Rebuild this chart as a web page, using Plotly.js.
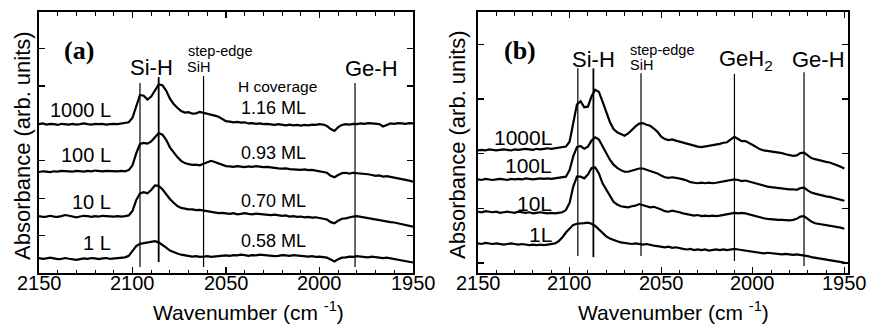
<!DOCTYPE html>
<html>
<head>
<meta charset="utf-8">
<script src="https://cdn.plot.ly/plotly-3.0.1.min.js"></script>
<style>html,body{margin:0;padding:0;background:#fff;}#chart{width:872px;height:324px;}</style>
</head>
<body>
<div id="chart"></div>
<script>
// Wavenumber grid (cm^-1)
var wn = [2150,2148,2146,2144,2142,2140,2138,2136,2134,2132,
2130,2128,2126,2124,2122,2120,2118,2116,2114,2112,
2110,2108,2106,2104,2102,2100,2098,2096,2094,2092,
2090,2088,2086,2084,2082,2080,2078,2076,2074,2072,
2070,2068,2066,2064,2062,2060,2058,2056,2054,2052,
2050,2048,2046,2044,2042,2040,2038,2036,2034,2032,
2030,2028,2026,2024,2022,2020,2018,2016,2014,2012,
2010,2008,2006,2004,2002,2000,1998,1996,1994,1992,
1990,1988,1986,1984,1982,1980,1978,1976,1974,1972,
1970,1968,1966,1964,1962,1960,1958,1956,1954,1952,
1950];

// Panel (a) spectra (offset, arb. units)
var a1000 = [3.98,4.00,3.97,3.99,3.98,3.96,3.99,3.98,3.97,3.99,
3.97,3.98,4.00,3.98,3.97,3.99,3.98,3.99,3.97,3.98,
3.99,3.98,3.99,4.00,4.03,4.15,4.45,4.76,4.74,4.64,
4.72,4.90,5.04,5.02,4.88,4.66,4.52,4.42,4.33,4.29,
4.30,4.26,4.27,4.31,4.29,4.27,4.25,4.21,4.18,4.12,
4.06,4.05,4.03,4.04,4.02,4.03,4.00,4.01,3.99,4.00,
3.98,3.99,3.97,3.96,3.98,3.96,3.95,3.97,3.95,3.96,
3.94,3.96,3.95,3.97,3.96,3.98,3.97,3.93,3.85,3.80,
3.90,3.96,3.98,3.97,3.99,3.98,4.00,3.99,4.01,4.00,
3.99,3.98,3.92,3.97,4.00,3.99,4.01,4.00,3.99,4.01,
4.00];
var a100 = [2.70,2.72,2.71,2.70,2.72,2.71,2.73,2.72,2.70,2.71,
2.73,2.72,2.71,2.73,2.72,2.74,2.73,2.72,2.73,2.72,
2.73,2.72,2.73,2.72,2.75,2.88,3.20,3.45,3.48,3.46,
3.52,3.64,3.74,3.70,3.56,3.36,3.22,3.10,3.00,2.94,
2.91,2.89,2.90,2.88,2.92,2.97,3.00,2.97,2.93,2.90,
2.86,2.85,2.84,2.86,2.85,2.83,2.85,2.84,2.86,2.84,
2.83,2.84,2.82,2.81,2.80,2.79,2.80,2.78,2.77,2.78,
2.76,2.77,2.75,2.76,2.74,2.73,2.71,2.68,2.60,2.56,
2.62,2.67,2.68,2.66,2.68,2.67,2.68,2.66,2.64,2.62,
2.60,2.61,2.58,2.59,2.57,2.56,2.55,2.53,2.50,2.47,
2.44];
var a10 = [1.52,1.50,1.51,1.53,1.51,1.50,1.52,1.55,1.53,1.50,
1.49,1.51,1.53,1.52,1.50,1.52,1.51,1.53,1.52,1.50,
1.51,1.52,1.51,1.52,1.54,1.66,1.95,2.13,2.16,2.13,
2.22,2.34,2.33,2.24,2.10,1.98,1.88,1.79,1.74,1.71,
1.70,1.70,1.68,1.69,1.67,1.66,1.64,1.62,1.60,1.61,
1.59,1.58,1.60,1.57,1.58,1.60,1.58,1.57,1.59,1.58,
1.56,1.57,1.55,1.56,1.54,1.53,1.54,1.51,1.52,1.50,
1.51,1.49,1.50,1.48,1.49,1.47,1.45,1.43,1.36,1.33,
1.40,1.45,1.46,1.49,1.51,1.52,1.50,1.48,1.46,1.44,
1.43,1.42,1.40,1.38,1.36,1.35,1.33,1.31,1.28,1.26,
1.24];
var a1 = [0.40,0.38,0.39,0.41,0.39,0.37,0.38,0.40,0.38,0.36,
0.35,0.37,0.39,0.38,0.40,0.39,0.37,0.39,0.40,0.38,
0.39,0.41,0.40,0.42,0.46,0.58,0.72,0.78,0.80,0.82,
0.85,0.85,0.82,0.76,0.68,0.60,0.55,0.52,0.49,0.47,
0.45,0.44,0.45,0.43,0.44,0.45,0.43,0.44,0.46,0.45,
0.47,0.46,0.48,0.47,0.49,0.48,0.46,0.48,0.47,0.49,
0.48,0.46,0.47,0.45,0.46,0.48,0.47,0.46,0.48,0.47,
0.45,0.46,0.44,0.45,0.43,0.44,0.42,0.41,0.36,0.31,
0.37,0.41,0.42,0.44,0.43,0.45,0.44,0.43,0.42,0.44,
0.42,0.41,0.40,0.41,0.39,0.38,0.37,0.35,0.33,0.30,
0.28];

// Panel (b) spectra
var b1000 = [2.06,2.07,2.06,2.08,2.07,2.06,2.07,2.08,2.07,2.06,
2.08,2.07,2.08,2.09,2.08,2.07,2.09,2.08,2.09,2.10,
2.09,2.10,2.10,2.11,2.13,2.22,2.55,2.90,2.96,2.85,
2.86,3.05,3.17,3.13,2.95,2.75,2.58,2.45,2.39,2.36,
2.33,2.37,2.44,2.50,2.55,2.56,2.53,2.51,2.46,2.40,
2.31,2.27,2.25,2.26,2.24,2.22,2.20,2.18,2.16,2.15,
2.13,2.12,2.13,2.15,2.16,2.17,2.18,2.20,2.21,2.26,
2.31,2.27,2.23,2.23,2.20,2.16,2.12,2.08,2.06,2.05,
2.04,2.04,2.03,2.01,1.99,1.97,1.96,1.97,2.01,2.02,
1.97,1.92,1.90,1.88,1.87,1.85,1.84,1.82,1.79,1.76,
1.73];
var b100 = [1.53,1.52,1.54,1.53,1.52,1.53,1.54,1.53,1.52,1.54,
1.53,1.54,1.53,1.55,1.54,1.53,1.54,1.55,1.54,1.55,
1.54,1.55,1.55,1.56,1.58,1.70,1.95,2.12,2.14,2.09,
2.13,2.24,2.30,2.26,2.14,2.00,1.89,1.80,1.74,1.70,
1.67,1.67,1.69,1.71,1.73,1.73,1.71,1.69,1.67,1.64,
1.60,1.57,1.56,1.57,1.56,1.55,1.53,1.51,1.48,1.47,
1.46,1.47,1.46,1.47,1.46,1.47,1.48,1.49,1.50,1.51,
1.53,1.52,1.50,1.51,1.49,1.47,1.45,1.43,1.41,1.40,
1.39,1.38,1.37,1.36,1.36,1.35,1.35,1.34,1.37,1.38,
1.33,1.29,1.27,1.25,1.24,1.22,1.21,1.19,1.18,1.16,
1.14];
var b10 = [0.94,0.93,0.95,0.94,0.93,0.94,0.92,0.93,0.94,0.93,
0.92,0.94,0.93,0.92,0.93,0.91,0.92,0.93,0.92,0.91,
0.92,0.91,0.92,0.93,0.97,1.10,1.40,1.58,1.58,1.55,
1.62,1.74,1.75,1.64,1.46,1.34,1.22,1.12,1.07,1.04,
1.03,1.02,1.04,1.05,1.08,1.06,1.04,1.02,1.03,1.01,
0.98,0.95,0.94,0.96,0.95,0.93,0.91,0.90,0.88,0.87,
0.88,0.86,0.87,0.86,0.87,0.86,0.87,0.88,0.89,0.91,
0.92,0.91,0.92,0.91,0.89,0.87,0.85,0.83,0.82,0.81,
0.80,0.80,0.79,0.79,0.78,0.78,0.79,0.81,0.85,0.86,
0.81,0.76,0.73,0.72,0.71,0.70,0.69,0.67,0.66,0.65,
0.63];
var b1 = [0.36,0.35,0.37,0.36,0.35,0.36,0.35,0.34,0.35,0.36,
0.35,0.34,0.35,0.34,0.33,0.34,0.33,0.34,0.33,0.34,
0.35,0.36,0.40,0.47,0.56,0.64,0.70,0.72,0.72,0.73,
0.74,0.72,0.68,0.62,0.55,0.49,0.45,0.42,0.40,0.38,
0.37,0.36,0.35,0.36,0.35,0.34,0.35,0.33,0.32,0.31,
0.30,0.29,0.30,0.28,0.29,0.27,0.26,0.25,0.26,0.24,
0.25,0.24,0.25,0.23,0.24,0.25,0.24,0.25,0.24,0.25,
0.26,0.25,0.24,0.23,0.22,0.21,0.20,0.19,0.18,0.19,
0.18,0.17,0.17,0.16,0.17,0.16,0.15,0.16,0.15,0.15,
0.13,0.11,0.10,0.09,0.08,0.07,0.06,0.05,0.04,0.02,
0.01];

// Marker lines (wavenumber, y-bottom, y-top)
var markA_x   = [2096, 2086, 2062, 1981];
var markA_bot = [0.16, 0.29, 0.16, 0.16];
var markA_top = [5.08, 5.24, 5.27, 5.08];
var markB_x   = [2095.5, 2087, 2061, 2010, 1972];
var markB_bot = [0.13, 0.11, 0.13, 0.04, -0.05];
var markB_top = [3.56, 3.56, 3.47, 3.46, 3.49];

// Labels
var dosesA = ['1000 L', '100 L', '10 L', '1 L'];
var coverA = ['1.16 ML', '0.93 ML', '0.70 ML', '0.58 ML'];
var dosesB = ['1000L', '100L', '10L', '1L'];
var xTicks = [2150, 2100, 2050, 2000, 1950];

var W = 872, H = 324;
var SANS = 'Liberation Sans, Arial, Helvetica, sans-serif';
var SERIF = 'Liberation Serif, Times New Roman, serif';

function tr(y, xa, ya) {
  return {x: wn, y: y, xaxis: xa, yaxis: ya, type: 'scatter', mode: 'lines',
          line: {color: '#000', width: 2.2}, hoverinfo: 'skip'};
}
var data = [
  tr(a1000,'x','y'), tr(a100,'x','y'), tr(a10,'x','y'), tr(a1,'x','y'),
  tr(b1000,'x2','y2'), tr(b100,'x2','y2'), tr(b10,'x2','y2'), tr(b1,'x2','y2')
];

var shapes = [];
markA_x.forEach(function(x, i) {
  shapes.push({type:'line', xref:'x', yref:'y', x0:x, x1:x, y0:markA_bot[i], y1:markA_top[i],
               line:{color:'#000', width: (i===1?1.8:1.2)}});
});
markB_x.forEach(function(x, i) {
  shapes.push({type:'line', xref:'x2', yref:'y2', x0:x, x1:x, y0:markB_bot[i], y1:markB_top[i],
               line:{color:'#000', width: (i===1?1.8:1.2)}});
});

function ann(text, px, py, size, opts) {
  var a = {text: text, x: px / W, y: 1 - py / H, xref: 'paper', yref: 'paper',
           xanchor: 'center', yanchor: 'middle', showarrow: false,
           font: {family: SANS, size: size, color: '#000'}};
  if (opts) { for (var k in opts) a[k] = opts[k]; }
  return a;
}
var annotations = [
  ann('<b>(a)</b>', 79, 50, 26, {font:{family:SERIF,size:26,color:'#000'}}),
  ann('Si-H', 151, 67, 22),
  ann('step-edge', 220, 51, 14.5),
  ann('SiH', 198, 67, 14.5),
  ann('H coverage', 277, 86, 15.5),
  ann('Ge-H', 371, 68, 22),
  ann('<b>(b)</b>', 520, 50, 26, {font:{family:SERIF,size:26,color:'#000'}}),
  ann('Si-H', 593, 60, 22),
  ann('step-edge', 662, 50, 14.5),
  ann('SiH', 641, 65, 14.5),
  ann('GeH<sub>2</sub>', 746, 60, 22),
  ann('Ge-H', 818, 60, 22),
  ann('Absorbance (arb. units)', 22, 146, 22, {textangle: -90}),
  ann('Absorbance (arb. units)', 457, 145, 22, {textangle: -90}),
  ann('Wavenumber (cm <sup>-1</sup>)', 249, 311, 21),
  ann('Wavenumber (cm <sup>-1</sup>)', 673, 311, 21)
];
var aLabY = [110, 155, 202, 243];
dosesA.forEach(function(t, i) { annotations.push(ann(t, 113, aLabY[i], 20, {xanchor:'right'})); });
var cLabY = [108, 153, 201, 241];
coverA.forEach(function(t, i) { annotations.push(ann(t, 273, cLabY[i], 18)); });
var bLabY = [137, 165, 203, 234];
dosesB.forEach(function(t, i) { annotations.push(ann(t, 554, bLabY[i], 21, {xanchor:'right'})); });
// x tick labels placed through the x scales, just under each axis
['x', 'x2'].forEach(function(xr) {
  xTicks.forEach(function(v) {
    annotations.push({text: String(v), x: v, xref: xr, y: 1 - 283 / H, yref: 'paper',
                      xanchor: 'center', yanchor: 'middle', showarrow: false,
                      font: {family: SANS, size: 20, color: '#000'}});
  });
});

function xax(domain, range, anchor) {
  return {domain: domain, range: range, anchor: anchor,
          tickmode: 'array', tickvals: xTicks, showticklabels: false,
          ticks: 'inside', ticklen: 6, tickwidth: 1.3, tickcolor: '#000',
          minor: {dtick: 10, tick0: 1950, ticks: 'inside', ticklen: 3.5, tickwidth: 1, tickcolor: '#000'},
          showline: true, linecolor: '#000', linewidth: 1.6, mirror: 'ticks',
          showgrid: false, zeroline: false};
}
function yax(domain, range, anchor) {
  return {domain: domain, range: range, anchor: anchor,
          tickmode: 'linear', tick0: 0, dtick: 1,
          ticks: 'inside', ticklen: 6, tickwidth: 1.3, tickcolor: '#000',
          showline: true, linecolor: '#000', linewidth: 1.6, mirror: 'ticks',
          showgrid: false, zeroline: false, showticklabels: false};
}

var yDom = [(H - 273) / H, (H - 12) / H];
var layout = {
  width: W, height: H,
  margin: {l: 0, r: 0, t: 0, b: 0},
  paper_bgcolor: '#fff', plot_bgcolor: '#fff',
  showlegend: false,
  xaxis: xax([39 / W, 413 / W], [2150, 1950], 'y'),
  yaxis: yax(yDom, [0, 6.98], 'x'),
  xaxis2: xax([478 / W, 848 / W], [2150, 1948], 'y2'),
  yaxis2: yax(yDom, [-0.18, 4.59], 'x2'),
  shapes: shapes,
  annotations: annotations
};

Plotly.newPlot('chart', data, layout, {staticPlot: true, displayModeBar: false});
</script>
</body>
</html>
